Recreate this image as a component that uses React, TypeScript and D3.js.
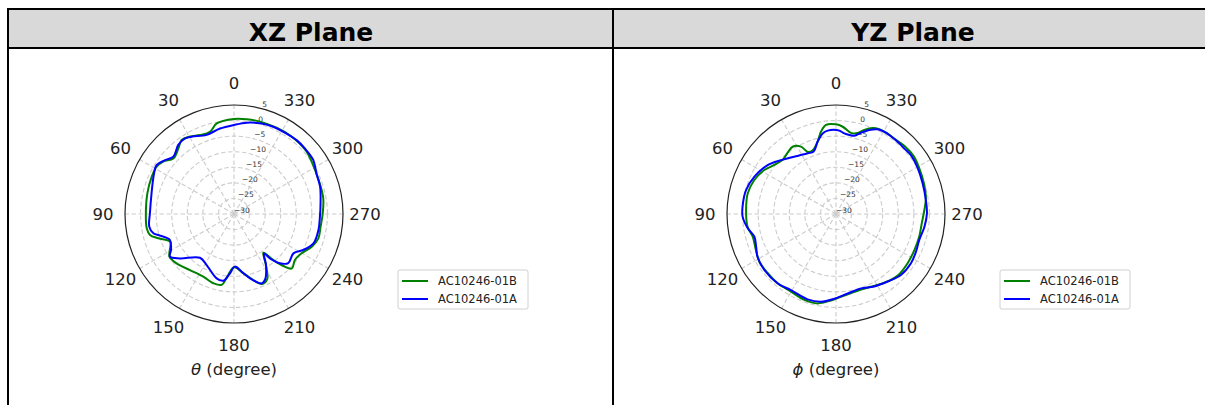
import * as d3 from "d3";

// angle in degrees (counter-clockwise from top), gain in dB
const xzAngleB = [0, 10.8, 16.3, 23.3, 29.6, 35.3, 40.3, 47.5, 53.5, 58.5, 65.6, 76.6, 89.6, 99.3, 104, 107.8, 113.4, 123.4, 130.7, 141.8, 153.9, 163.4, 170.1, 173.9, 180, 189, 196.3, 201.6, 207, 212, 217.2, 220.5, 223.5, 226.7, 233, 239.8, 247.2, 253.9, 261.7, 270.4, 280, 287.5, 298.5, 306.2, 311.4, 324.2, 333.8, 344.3, 352.4];
const xzGainB = [0.5, -0.4, -2.5, -2.4, -1.4, -0.9, -2.4, -3.6, -1.7, -0.9, -1.0, -1.4, -1.7, -1.6, -2.2, -4.5, -7.6, -5.2, -5.7, -7.1, -7.6, -6.8, -6.9, -9.8, -12.9, -10.7, -7.9, -5.8, -6.5, -10.6, -14.4, -10.5, -7.0, -4.5, -5.5, -4.9, -2.9, -1.8, -1.9, -1.5, -0.9, -0.8, -0.4, 0.3, 0.8, 1.0, 0.9, 0.8, 0.7];

const xzAngleA = [0, 9.3, 19.1, 28.7, 32.9, 38.9, 46.6, 52, 57.6, 63, 75.9, 89.5, 98.5, 103.5, 106.3, 112.1, 119.7, 123.7, 129.4, 142.1, 151.8, 164.9, 171, 175.6, 181, 187.6, 194, 201.8, 205.6, 212, 217.3, 219, 223, 227.8, 236.5, 242.6, 249.7, 259.3, 268.2, 277, 287.6, 296.2, 304.2, 312.8, 319.7, 329, 335.8, 344, 352.1];
const xzGainA = [-1.4, -2.2, -3.1, -1.7, -1.1, -1.5, -3.2, -1.9, -0.6, -1.2, -2.7, -3.0, -2.5, -3.4, -5.3, -7.8, -6.7, -5.3, -7.5, -12.2, -11.4, -8.6, -8.3, -10.6, -13.1, -11.3, -8.7, -6.0, -6.8, -10.6, -14.1, -11.7, -8.4, -6.5, -7.1, -4.9, -2.8, -2.4, -2.4, -2.0, -1.0, -0.5, 0.8, 1.0, 1.1, 0.8, 0.7, 0.3, -0.4];

const yzAngleB = [0, 6.4, 10.3, 14.2, 20, 24.4, 27.5, 32.8, 38.2, 44.6, 51.5, 58.5, 67.4, 76.8, 87.5, 98.2, 105.2, 114.2, 121.9, 131, 140.1, 149.9, 159.8, 168.4, 176.7, 185.8, 195.8, 205.7, 215.1, 224.8, 235.5, 245.3, 254.8, 263.8, 272.6, 279.9, 289.3, 298.7, 306.5, 315, 322, 328, 333, 337, 341.4, 345, 349.6, 355.6];
const yzGainB = [-1.2, -1.2, -3.1, -6.0, -8.2, -8.1, -5.6, -4.3, -4.9, -5.6, -4.7, -3.0, -1.6, -0.9, -1.1, -1.3, -2.3, -1.8, -1.0, -1.0, -0.9, -1.2, -0.6, -0.7, -2.2, -3.7, -4.4, -4.1, -3.0, -2.0, -2.1, -2.3, -2.3, -2.3, -1.6, -0.7, -0.1, 0.5, 1.1, 1.0, 0.6, 0.7, 0.6, 0.0, -1.5, -3.1, -3.5, -1.9];

const yzAngleA = [0, 5.7, 9.4, 14.2, 19.7, 25, 38.5, 45.5, 54.4, 65.4, 75.1, 85.5, 91.6, 99.2, 105.5, 112.2, 118.6, 128, 140.1, 149.4, 161.6, 170.3, 178.9, 188.4, 198.6, 207.8, 217.4, 226.8, 236.7, 244.8, 252.7, 261.8, 270.4, 278.8, 289.5, 299.2, 308.2, 313.9, 319.6, 326, 329.6, 333.8, 338.4, 342.9, 346.8, 350.4, 354.1, 357.7];
const yzGainA = [-3.0, -3.1, -3.8, -6.0, -8.7, -8.5, -6.8, -5.3, -3.0, -1.2, -0.1, 0.1, 0.0, -1.3, -2.8, -2.3, -1.3, -0.8, -0.9, -1.6, -1.1, -1.4, -2.8, -4.2, -4.8, -3.7, -2.7, -1.4, -1.2, -1.6, -2.0, -1.3, -0.8, -0.8, -0.5, 0.1, 0.6, 0.4, 0.5, 0.6, 0.6, 0.3, -1.0, -2.7, -4.2, -4.3, -4.0, -3.2];

const seriesNames = ["AC10246-01B", "AC10246-01A"];
const seriesColors = ["#008000", "#0000ff"];
const angleTicks = d3.range(0, 360, 30);
const radialTicks = [5, 0, -5, -10, -15, -20, -25, -30];
const gridRings = [0, -5, -10, -15, -20, -25];

const W = 1205;
const H = 405;
const R = 109;
const font = "'DejaVu Sans', sans-serif";

const panels = [
  { title: "XZ Plane", cx: 234, label: "θ", series: [[xzAngleB, xzGainB], [xzAngleA, xzGainA]] },
  { title: "YZ Plane", cx: 836, label: "ϕ", series: [[yzAngleB, yzGainB], [yzAngleA, yzGainA]] },
];

const rScale = d3.scaleLinear().domain([-30, 5]).range([0, R]);
const rad = (deg: number) => (deg * Math.PI) / 180;

function Polar({ cx, cy, label, series }: any) {
  const line = d3
    .lineRadial<[number, number]>()
    .angle((d) => -rad(d[0]))
    .radius((d) => rScale(d[1]))
    .curve(d3.curveCatmullRomClosed.alpha(0.5));

  const fmt = (v: number) => (v < 0 ? "\u2212" + Math.abs(v) : String(v));
  const la = rad(15);

  return (
    <g transform={`translate(${cx},${cy})`}>
      {gridRings.map((v) => (
        <circle key={v} r={rScale(v)} fill="none" stroke="#cccccc" strokeWidth={1.1} strokeDasharray="4.5,2.5" />
      ))}
      {angleTicks.map((a) => (
        <line key={a} x1={0} y1={0} x2={-R * Math.sin(rad(a))} y2={-R * Math.cos(rad(a))}
          stroke="#cccccc" strokeWidth={1.1} strokeDasharray="4.5,2.5" />
      ))}
      {radialTicks.map((v) => {
        const r = rScale(v);
        return (
          <text key={v} x={r * Math.sin(la)} y={-r * Math.cos(la) - 4} fontSize={7.5} fill="#333"
            fontFamily={font} dominantBaseline="central">{fmt(v)}</text>
        );
      })}
      {series.map((s: number[][], i: number) => {
        const pts = s[0].map((a, j) => [a, s[1][j]] as [number, number]);
        return <path key={i} d={line(pts) || ""} fill="none" stroke={seriesColors[i]} strokeWidth={2} />;
      })}
      <circle r={R} fill="none" stroke="#222" strokeWidth={1.2} />
      {angleTicks.map((a) => (
        <text key={a} x={-(R + 22) * Math.sin(rad(a))} y={-(R + 22) * Math.cos(rad(a))}
          textAnchor="middle" dominantBaseline="central" fontSize={16.5} fontFamily={font} fill="#222">{a}</text>
      ))}
      <text x={0} y={161} textAnchor="middle" fontSize={16.5} fontFamily={font} fill="#222">
        <tspan fontStyle="italic">{label}</tspan> (degree)
      </text>
      <g transform={`translate(${164},${56})`}>
        <rect x={0} y={0} width={130} height={39} rx={2} fill="#fff" stroke="#d0d0d0" strokeWidth={1} />
        {seriesNames.map((n, i) => (
          <g key={n} transform={`translate(0,${11 + i * 18})`}>
            <line x1={4} x2={30} y1={0} y2={0} stroke={seriesColors[i]} strokeWidth={2} />
            <text x={40} y={4} fontSize={11.5} fontFamily={font} fill="#222">{n}</text>
          </g>
        ))}
      </g>
    </g>
  );
}

export default function App() {
  return (
    <svg width={W} height={H} style={{ position: "absolute", left: 0, top: 0, background: "#fff" }}>
      <rect x={8} y={9} width={W} height={39} fill="#d9d9d9" />
      <line x1={7} x2={W} y1={9} y2={9} stroke="#000" strokeWidth={2} />
      <line x1={7} x2={W} y1={48} y2={48} stroke="#000" strokeWidth={2} />
      <line x1={8} x2={8} y1={8} y2={H} stroke="#000" strokeWidth={2} />
      <line x1={613} x2={613} y1={8} y2={H} stroke="#000" strokeWidth={2} />
      {panels.map((p, i) => (
        <text key={p.title} x={i === 0 ? 311 : 913} y={41} textAnchor="middle" fontSize={25}
          fontWeight="bold" fontFamily={font} fill="#000">{p.title}</text>
      ))}
      {panels.map((p) => (
        <Polar key={p.title} cx={p.cx} cy={214} label={p.label} series={p.series} />
      ))}
    </svg>
  );
}
